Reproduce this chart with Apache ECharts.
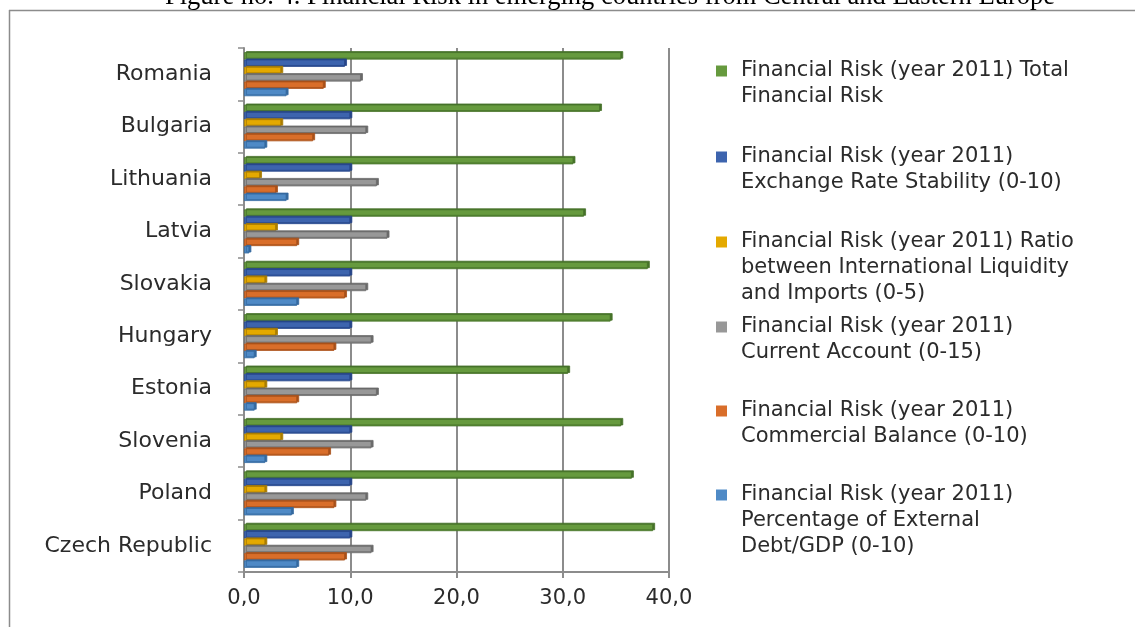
<!DOCTYPE html>
<html>
<head>
<meta charset="utf-8">
<script src="https://cdn.jsdelivr.net/npm/echarts@6/dist/echarts.min.js"></script>
<style>
html,body{margin:0;padding:0;background:#fff;}
#c{width:1135px;height:627px;}
</style>
</head>
<body>
<div id="c"></div>
<script>
// Categories listed bottom to top
const categories = ['Czech Republic','Poland','Slovenia','Estonia','Hungary','Slovakia','Latvia','Lithuania','Bulgaria','Romania'];

const totalRisk      = [38.5, 36.5, 35.5, 30.5, 34.5, 38.0, 32.0, 31.0, 33.5, 35.5];
const exchangeRate   = [10.0, 10.0, 10.0, 10.0, 10.0, 10.0, 10.0, 10.0, 10.0, 9.5];
const liquidityRatio = [2.0, 2.0, 3.5, 2.0, 3.0, 2.0, 3.0, 1.5, 3.5, 3.5];
const currentAccount = [12.0, 11.5, 12.0, 12.5, 12.0, 11.5, 13.5, 12.5, 11.5, 11.0];
const commercialBal  = [9.5, 8.5, 8.0, 5.0, 8.5, 9.5, 5.0, 3.0, 6.5, 7.5];
const externalDebt   = [5.0, 4.5, 2.0, 1.0, 1.0, 5.0, 0.5, 4.0, 2.0, 4.0];

const xTicks = [0, 10, 20, 30, 40];

const nameTotal    = 'Financial Risk (year 2011) Total\nFinancial Risk';
const nameExchange = 'Financial Risk (year 2011)\nExchange Rate Stability (0-10)';
const nameRatio    = 'Financial Risk (year 2011) Ratio\nbetween International Liquidity\nand Imports (0-5)';
const nameCurrent  = 'Financial Risk (year 2011)\nCurrent Account (0-15)';
const nameComm     = 'Financial Risk (year 2011)\nCommercial Balance (0-10)';
const nameDebt     = 'Financial Risk (year 2011)\nPercentage of External\nDebt/GDP (0-10)';

const titleText = 'Figure no. 4. Financial Risk in emerging countries from Central and Eastern Europe';

const chart = echarts.init(document.getElementById('c'), null, {renderer: 'canvas'});

function bar(name, data, color, edge) {
  return {
    type: 'bar', name: name, data: data,
    barGap: '0%', barCategoryGap: '16%',
    itemStyle: {
      color: color, borderColor: edge, borderWidth: 0.8,
      shadowColor: edge, shadowOffsetX: 2, shadowOffsetY: -1, shadowBlur: 0
    },
    emphasis: {disabled: true},
    animation: false
  };
}

const LH = 26;
const legendFont = {fontFamily: 'DejaVu Sans', fontSize: 21, color: '#2b2b2b', lineHeight: LH};
function legendFor(name, iconCenter) {
  const n = name.split('\n').length;
  const box = (2 * n - 1) * LH;
  return {
    data: [name], orient: 'vertical', left: 716, top: iconCenter - box / 2,
    padding: 0, itemWidth: 11, itemHeight: 11, icon: 'rect',
    selectedMode: false,
    itemStyle: {borderWidth: 0, shadowColor: 'transparent', shadowOffsetX: 0, shadowOffsetY: 0},
    // leading blank lines keep the first text line level with the icon
    formatter: nm => ' \n'.repeat(n - 1) + nm,
    textStyle: Object.assign({}, legendFont, {padding: [0, 0, 0, 9]})
  };
}

const option = {
  backgroundColor: '#fff',
  animation: false,
  title: {
    text: titleText, left: 165, top: -16, padding: 0,
    textStyle: {fontFamily: 'Liberation Serif', fontSize: 26.5, fontWeight: 'normal', color: '#000'}
  },
  graphic: [
    {type: 'line', shape: {x1: 9, y1: 10.5, x2: 1135, y2: 10.5}, style: {stroke: '#8c8c8c', lineWidth: 1.5}, silent: true},
    {type: 'line', shape: {x1: 9.5, y1: 10, x2: 9.5, y2: 627}, style: {stroke: '#8c8c8c', lineWidth: 1.5}, silent: true}
  ],
  legend: [
    legendFor(nameTotal, 71),
    legendFor(nameExchange, 157),
    legendFor(nameRatio, 242),
    legendFor(nameCurrent, 327),
    legendFor(nameComm, 411),
    legendFor(nameDebt, 495)
  ],
  grid: {left: 244, top: 48, width: 425, bottom: 55, containLabel: false},
  xAxis: {
    type: 'value', min: xTicks[0], max: xTicks[xTicks.length - 1], interval: 10,
    axisLine: {show: true, lineStyle: {color: '#8c8c8c', width: 2}},
    axisTick: {show: true, length: 6, lineStyle: {color: '#8c8c8c', width: 2}},
    splitLine: {show: true, lineStyle: {color: '#8c8c8c', width: 2}},
    axisLabel: {
      margin: 16, color: '#2b2b2b', fontFamily: 'DejaVu Sans', fontSize: 21,
      formatter: v => v.toFixed(1).replace('.', ',')
    }
  },
  yAxis: {
    type: 'category', data: categories,
    axisLine: {show: true, lineStyle: {color: '#8c8c8c', width: 2}},
    axisTick: {show: true, length: 6, lineStyle: {color: '#8c8c8c', width: 1.5}},
    axisLabel: {margin: 32, color: '#2b2b2b', fontFamily: 'DejaVu Sans', fontSize: 22}
  },
  series: [
    bar(nameTotal, totalRisk, '#669a3e', '#46722a'),
    bar(nameExchange, exchangeRate, '#3d64ae', '#27468a'),
    bar(nameRatio, liquidityRatio, '#e4a900', '#a97c00'),
    bar(nameCurrent, currentAccount, '#989898', '#6a6a6a'),
    bar(nameComm, commercialBal, '#d96e2a', '#a8501a'),
    bar(nameDebt, externalDebt, '#4f8ac6', '#35699f')
  ]
};
chart.setOption(option);
</script>
</body>
</html>
